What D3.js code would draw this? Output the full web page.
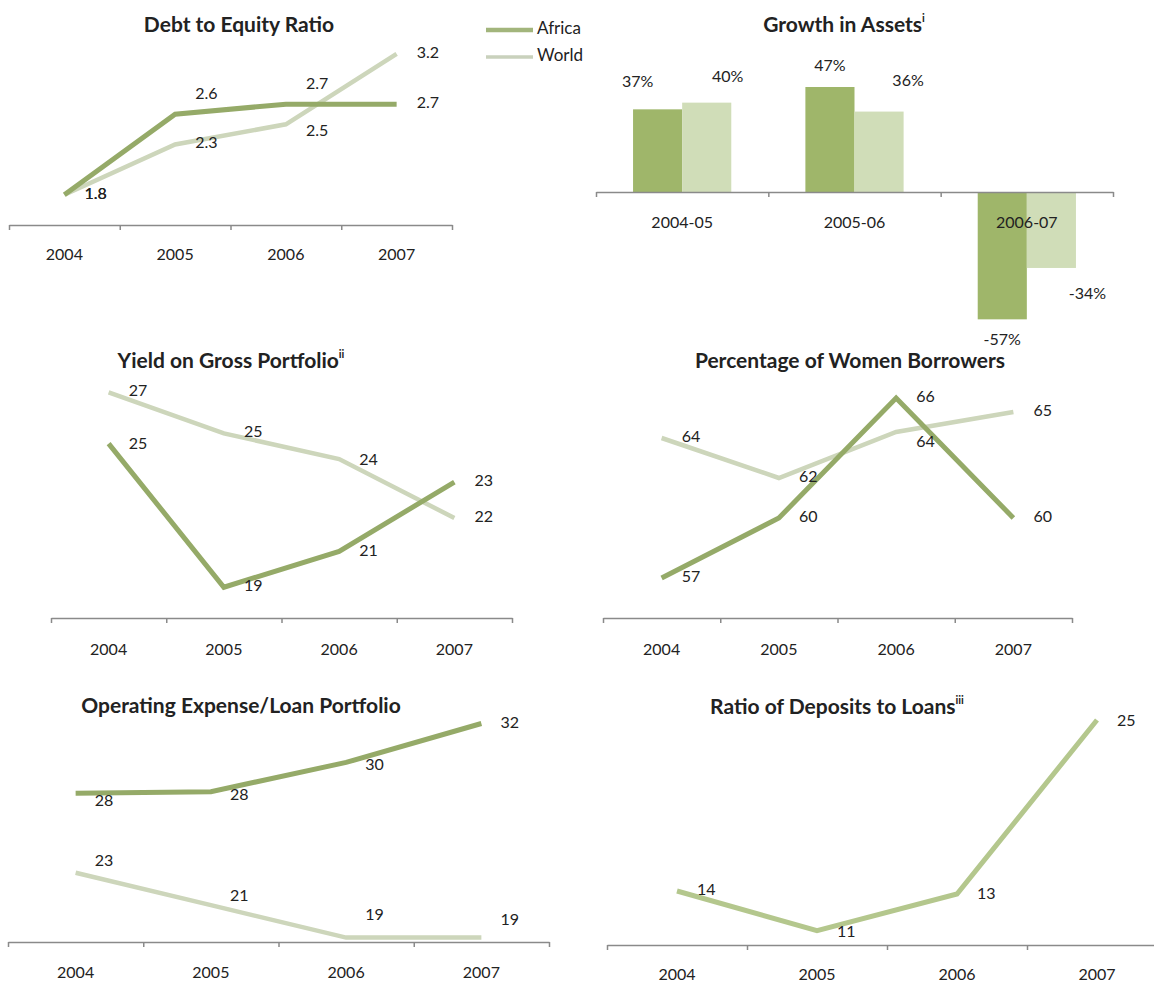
<!DOCTYPE html>
<html>
<head>
<meta charset="utf-8">
<script src="https://cdn.jsdelivr.net/npm/d3@7"></script>
<style>
  html, body { margin: 0; padding: 0; background: #ffffff; }
  svg { display: block; }
  text { font-family: Lato, "Open Sans", sans-serif; fill: #222; }
</style>
</head>
<body>
<svg id="chart" width="1154" height="1002"></svg>
<script>
// ---------------- DATA ----------------
const years = ["2004", "2005", "2006", "2007"];
const seriesNames = ["Africa", "World"];

const debtAfrica = [1.8, 2.6, 2.7, 2.7];
const debtWorld  = [1.8, 2.3, 2.5, 3.2];

const growthPeriods = ["2004-05", "2005-06", "2006-07"];
const growthAfrica  = [37, 47, -57];
const growthWorld   = [40, 36, -34];

const yieldAfrica = [24.8, 19.2, 20.6, 23.3];
const yieldWorld  = [26.8, 25.2, 24.2, 21.9];

const womenAfrica = [57, 60, 66, 60];
const womenWorld  = [64.0, 62.0, 64.3, 65.3];

const opexAfrica = [27.9, 28.0, 29.8, 32.2];
const opexWorld  = [23.0, 21.0, 19.0, 19.0];

const depositsRatio = [13.6, 10.95, 13.4, 25.0];

// ---------------- STYLE ----------------
const C = {
  africaLine: "#95aa68",
  worldLine: "#cdd6bb",
  singleLine: "#b4c78d",
  africaBar: "#9fb66a",
  worldBar: "#d0ddb8",
  axis: "#8a8a8a",
  africaLegend: "#a2b57c",
  worldLegend: "#c9d1bc"
};
const LABEL_SIZE = "16px";
const TITLE_SIZE = "21px";

const loc = d3.formatLocale({ decimal: ".", thousands: ",", grouping: [3], currency: ["", ""], minus: "-" });

const svg = d3.select("#chart");

function title(g, txt, sup, cx, cy) {
  const t = g.append("text")
    .attr("x", cx).attr("y", cy)
    .attr("text-anchor", "middle")
    .attr("dominant-baseline", "middle")
    .style("font-weight", "bold")
    .style("font-size", TITLE_SIZE);
  t.append("tspan").text(txt);
  if (sup) t.append("tspan").attr("dy", -8).style("font-size", "11px").text(sup);
}

function categoryAxis(g, band, axisY, labelY) {
  const n = band.domain().length;
  const edges = d3.scaleLinear().domain([0, n]).range(band.range());
  g.append("g")
    .attr("transform", `translate(0,${axisY})`)
    .call(d3.axisBottom(edges).tickValues(d3.range(0, n + 1)).tickFormat("").tickSize(5).tickSizeOuter(0))
    .call(a => a.selectAll("path, line").attr("stroke", C.axis).attr("stroke-width", 1.5));
  g.append("g")
    .attr("transform", `translate(0,${axisY})`)
    .call(d3.axisBottom(band).tickSize(0).tickPadding(labelY - axisY - 6))
    .call(a => a.select(".domain").remove())
    .call(a => a.selectAll("text").style("font-size", LABEL_SIZE).style("font-family", "Lato, sans-serif").attr("fill", "#222"));
}

function linePanel(cfg) {
  const g = svg.append("g");
  const x = d3.scaleBand().domain(years).range([cfg.x0, cfg.x1]).padding(0);
  const y = d3.scaleLinear().domain(cfg.yDomain)
    .range([cfg.axisY, cfg.axisY - (cfg.yDomain[1] - cfg.yDomain[0]) * cfg.pxPerUnit]);
  const cx = d => x(d) + x.bandwidth() / 2;
  categoryAxis(g, x, cfg.axisY, cfg.labelY);
  const line = d3.line().x((v, i) => cx(years[i])).y(v => y(v));
  cfg.series.slice().reverse().forEach(s => {
    g.append("path").datum(s.values)
      .attr("d", line)
      .attr("fill", "none")
      .attr("stroke", s.color)
      .attr("stroke-width", s.width)
      .attr("stroke-linejoin", "miter");
  });
  cfg.series.forEach(s => {
    g.selectAll(null).data(s.values).enter().append("text")
      .attr("x", (v, i) => cx(years[i]) + cfg.labelDx)
      .attr("y", (v, i) => y(v) + s.dy[i])
      .attr("dominant-baseline", "middle")
      .style("font-size", LABEL_SIZE)
      .text(v => cfg.fmt(v));
  });
  title(g, cfg.title, cfg.sup, cfg.titleX, cfg.titleY);
}

// Panel 1: Debt to Equity Ratio
linePanel({
  title: "Debt to Equity Ratio", titleX: 239, titleY: 27,
  x0: 9, x1: 452, axisY: 225, labelY: 255,
  yDomain: [1.5, 3.5], pxPerUnit: 100.7,
  fmt: loc.format(".1f"), labelDx: 20,
  series: [
    { values: debtAfrica, color: C.africaLine, width: 5, dy: [0, -19, -19, 0] },
    { values: debtWorld, color: C.worldLine, width: 4.5, dy: [0, 0, 8, 0] }
  ]
});

// Legend
const leg = svg.append("g");
const legY = d3.scalePoint().domain(seriesNames).range([30, 57]);
const legColor = d3.scaleOrdinal().domain(seriesNames).range([C.africaLegend, C.worldLegend]);
seriesNames.forEach(n => {
  leg.append("line").attr("x1", 486).attr("x2", 533)
    .attr("y1", legY(n)).attr("y2", legY(n))
    .attr("stroke", legColor(n)).attr("stroke-width", n === "Africa" ? 4.5 : 3.5);
  leg.append("text").attr("x", 537).attr("y", legY(n))
    .attr("dominant-baseline", "middle").style("font-size", "17px").attr("fill", "#333").text(n);
});

// Panel 2: Growth in Assets (bars)
(function () {
  const g = svg.append("g");
  const axisY = 192, pxPer = 2.234;
  const x = d3.scaleBand().domain(growthPeriods).range([596, 1113]).padding(0);
  const bw = x.bandwidth();
  const xs = d3.scaleBand().domain(seriesNames).range([bw * 0.215, bw * 0.785]).padding(0);
  const y = d3.scaleLinear().domain([-60, 50]).range([axisY + 60 * pxPer, axisY - 50 * pxPer]);
  const vals = { Africa: growthAfrica, World: growthWorld };
  const colors = { Africa: C.africaBar, World: C.worldBar };
  const lblOff = {
    Africa: [[-20, -26], [0, -20], [0, 22]],
    World: [[21, -25], [29, -30], [36, 27]]
  };
  const pct = loc.format("d");
  seriesNames.forEach(s => {
    g.selectAll(null).data(vals[s]).enter().append("rect")
      .attr("x", (v, i) => x(growthPeriods[i]) + xs(s))
      .attr("width", xs.bandwidth())
      .attr("y", v => Math.min(y(v), y(0)))
      .attr("height", v => Math.abs(y(v) - y(0)))
      .attr("fill", colors[s]);
  });
  categoryAxis(g, x, axisY, 223);
  seriesNames.forEach(s => {
    g.selectAll(null).data(vals[s]).enter().append("text")
      .attr("x", (v, i) => x(growthPeriods[i]) + xs(s) + xs.bandwidth() / 2 + lblOff[s][i][0])
      .attr("y", (v, i) => y(v) + lblOff[s][i][1])
      .attr("text-anchor", "middle")
      .attr("dominant-baseline", "middle")
      .style("font-size", LABEL_SIZE)
      .text(v => pct(v) + "%");
  });
  title(g, "Growth in Assets", "i", 844, 27);
})();

// Panel 3: Yield on Gross Portfolio
linePanel({
  title: "Yield on Gross Portfolio", sup: "ii", titleX: 231, titleY: 363,
  x0: 51, x1: 512, axisY: 618, labelY: 650,
  yDomain: [18, 28], pxPerUnit: 25.64,
  fmt: loc.format(".0f"), labelDx: 20,
  series: [
    { values: yieldAfrica, color: C.africaLine, width: 5, dy: [1, 0, 1, 0] },
    { values: yieldWorld, color: C.worldLine, width: 4.5, dy: [0, 0, 2, 0] }
  ]
});

// Panel 4: Percentage of Women Borrowers
linePanel({
  title: "Percentage of Women Borrowers", titleX: 850, titleY: 363,
  x0: 603, x1: 1072, axisY: 618, labelY: 650,
  yDomain: [55, 68], pxPerUnit: 20,
  fmt: loc.format(".0f"), labelDx: 20,
  series: [
    { values: womenAfrica, color: C.africaLine, width: 5, dy: [0, 0, 0, 0] },
    { values: womenWorld, color: C.worldLine, width: 4.5, dy: [0, 0, 11, 0] }
  ]
});

// Panel 5: Operating Expense/Loan Portfolio
linePanel({
  title: "Operating Expense/Loan Portfolio", titleX: 241, titleY: 708,
  x0: 8, x1: 549, axisY: 942, labelY: 973,
  yDomain: [18.73, 33], pxPerUnit: 16.22,
  fmt: loc.format(".0f"), labelDx: 19,
  series: [
    { values: opexAfrica, color: C.africaLine, width: 5, dy: [9, 4, 4, 0] },
    { values: opexWorld, color: C.worldLine, width: 4.5, dy: [-11, -8, -22, -17] }
  ]
});

// Panel 6: Ratio of Deposits to Loans
linePanel({
  title: "Ratio of Deposits to Loans", sup: "iii", titleX: 837, titleY: 709,
  x0: 607, x1: 1167, axisY: 945, labelY: 975,
  yDomain: [10, 26], pxPerUnit: 15,
  fmt: loc.format(".0f"), labelDx: 20,
  series: [
    { values: depositsRatio, color: C.singleLine, width: 5, dy: [0, 2, 1, 2] }
  ]
});
</script>
</body>
</html>
